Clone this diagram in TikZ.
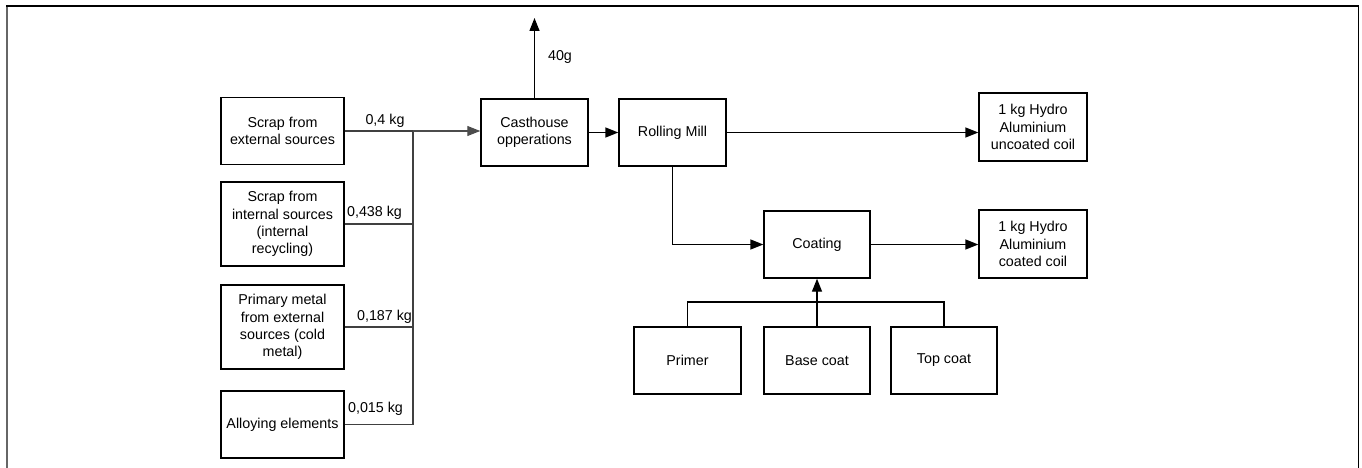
\documentclass[tikz,border=0pt]{standalone}
\usepackage{fontspec}
\setmainfont{Liberation Sans}
\usetikzlibrary{arrows.meta,calc}
\begin{document}
\begin{tikzpicture}[x=1pt,y=-1pt,
  box/.style={draw=black,line width=1.4pt,align=center,inner sep=2pt,
    font=\fontsize{14.3}{17.3}\selectfont},
  lbl/.style={font=\fontsize{14.3}{17.3}\selectfont,inner sep=0pt},
  conn/.style={line width=1.4pt,draw=black},
  feed/.style={line width=1.2pt,draw=black!75},
  tip/.style={-{Triangle[length=13pt,width=10pt]}},
]
\useasboundingbox (0,0) rectangle (1362,468);
% frame
\draw[line width=2pt,draw=black!60] (6.5,468) -- (6.5,6);
\draw[line width=1.2pt] (6,6) -- (1358.5,6) -- (1358.5,468);

% left source boxes
\node[box,minimum width=123pt,minimum height=67pt] (ext) at (282.5,131) {Scrap from\\external sources};
\node[box,minimum width=123pt,minimum height=84pt] (int) at (282.5,224) {Scrap from\\internal sources\\(internal\\recycling)};
\node[box,minimum width=123pt,minimum height=84pt] (prim) at (282.5,327) {Primary metal\\from external\\sources (cold\\metal)};
\node[box,minimum width=123pt,minimum height=67pt] (alloy) at (282.5,424.5) {Alloying elements};

% process boxes
\node[box,minimum width=107pt,minimum height=67pt] (cast) at (534.5,132.5) {Casthouse\\opperations};
\node[box,minimum width=107pt,minimum height=67pt] (roll) at (672.5,132.5) {Rolling Mill};
\node[box,minimum width=108pt,minimum height=68pt] (unc) at (1033,127) {1 kg Hydro\\Aluminium\\uncoated coil};
\node[box,minimum width=106pt,minimum height=67pt] (coat) at (817,244.5) {Coating};
\node[box,minimum width=108pt,minimum height=68pt] (coated) at (1033,244) {1 kg Hydro\\Aluminium\\coated coil};
\node[box,minimum width=107pt,minimum height=67pt] (primer) at (687.5,360.5) {Primer};
\node[box,minimum width=106pt,minimum height=67pt] (base) at (817,360.5) {Base coat};
\node[box,minimum width=106pt,minimum height=67pt] (topc) at (944,360.5) {Top coat};

% helper coordinates
\coordinate (bus) at (413,0);
\coordinate (out) at (0,18);
\coordinate (cbus) at (0,302);

% feed lines
\draw[feed] (ext.east) -- (ext.east -| bus);
\draw[feed] (int.east) -- (int.east -| bus);
\draw[feed] (prim.east) -- (prim.east -| bus);
\draw[feed] (alloy.east) -| (ext.east -| bus);
\draw[feed,draw=black!70,tip] (ext.east -| bus) -- (ext.east -| cast.west);

% labels on feeds
\node[lbl] (l1) at (385,121) {0,4 kg};
\node[lbl] (l2) at (374.5,213) {0,438 kg};
\node[lbl] (l3) at (384.5,317) {0,187 kg};
\node[lbl] (l4) at (375.5,409) {0,015 kg};

% process connectors
\draw[conn,tip] (cast.north) -- (cast.north |- out);
\node[lbl] (l5) at (560,57) {40g};
\draw[conn,tip] (cast.east) -- (roll.west);
\draw[conn,tip] (roll.east) -- (roll.east -| unc.west);
\draw[conn,tip] (roll.south) |- (coat.west);
\draw[conn,tip] (coat.east) -- (coat.east -| coated.west);
\draw[conn,tip] (base.north) -- (coat.south);
\draw[conn] (primer.north) -- (primer.north |- cbus) -- (topc.north |- cbus) -- (topc.north);
\end{tikzpicture}
\end{document}
